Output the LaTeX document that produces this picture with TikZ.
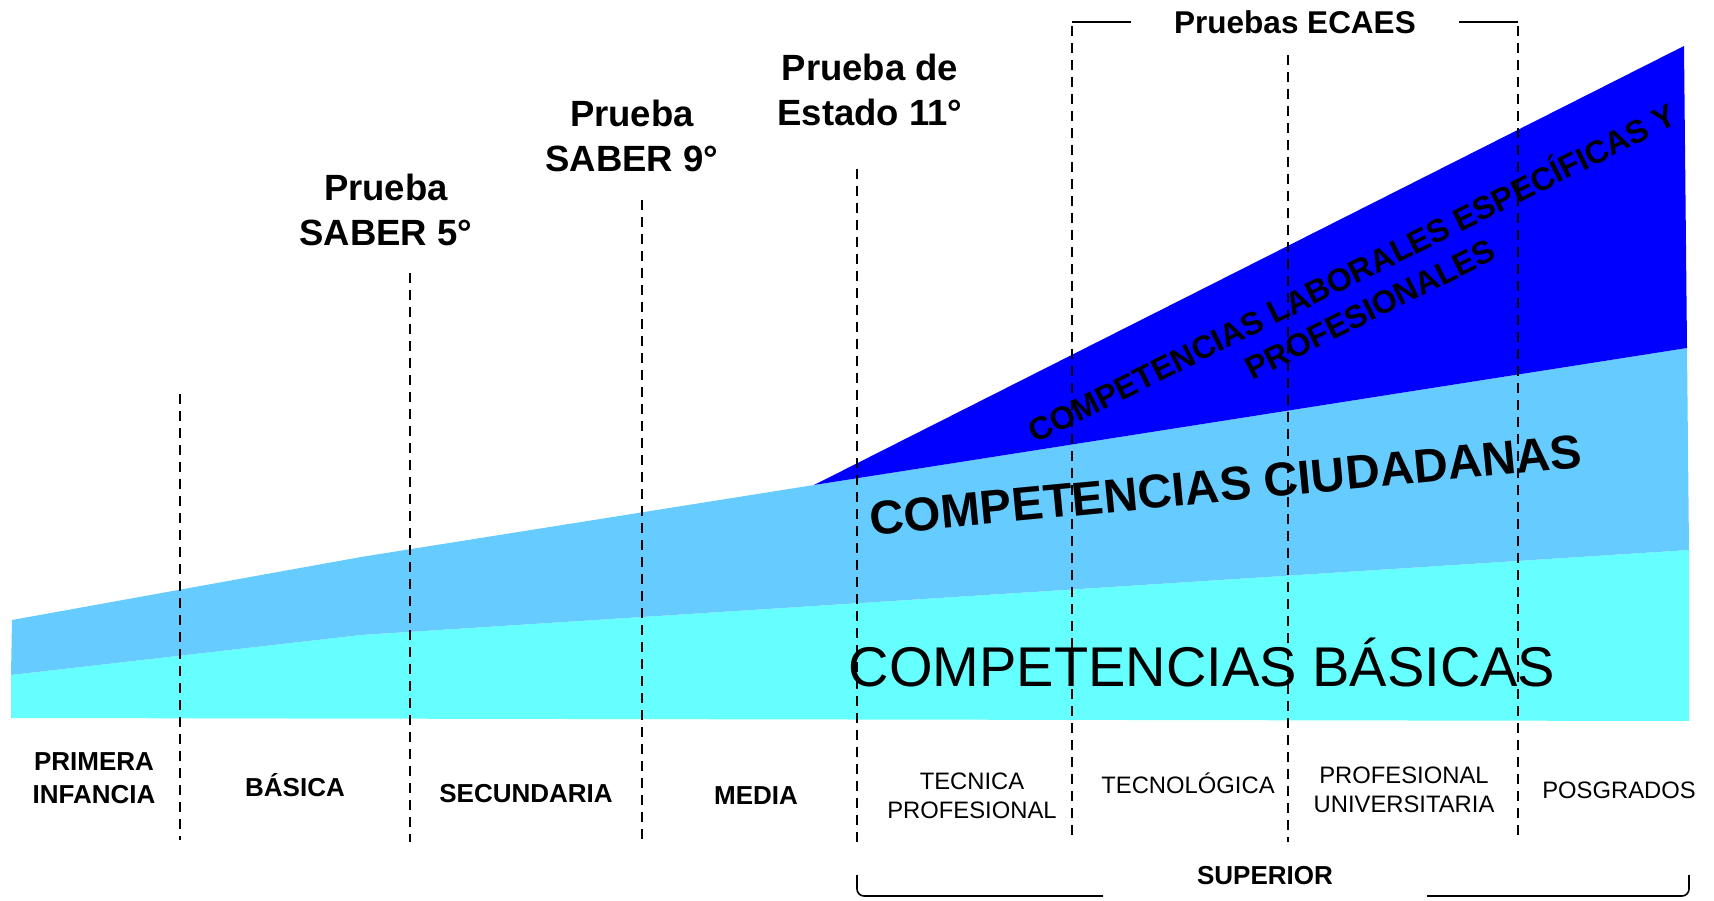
\documentclass[tikz,border=0pt]{standalone}
\usepackage{fontspec}
\setmainfont{Liberation Sans}
\definecolor{basicas}{HTML}{66FFFF}
\definecolor{ciudadanas}{HTML}{66CCFF}
\definecolor{laborales}{HTML}{0000FF}
\newcommand{\fs}[2]{\fontsize{#1}{#2}\selectfont}

\begin{document}
\begin{tikzpicture}[x=1pt,y=-1pt,
		nivelline/.style={dash pattern=on 10pt off 7pt,line width=2.8pt},
		bracket/.style={line width=2pt},
		prueba/.style={align=center,font=\bfseries\fs{36.5}{45}},
		nivel/.style={align=center,font=\bfseries\fs{26}{33}},
		superior/.style={align=center,font=\fs{23.8}{28.5}}]
		\useasboundingbox (0,0) rectangle (1714,901);
		
		% bandas de competencias
		\fill[basicas] (11,675) -- (361,635) -- (1689,550) -- (1689,721) -- (11,718) -- cycle;
		\fill[ciudadanas] (12,620) -- (361,557) -- (814,485) -- (1687,348) -- (1689,550) -- (361,635) -- (11,675) -- cycle;
		\fill[laborales] (814,485) -- (1684,46) -- (1687,348) -- cycle;
		
		\node[font=\fs{56}{60}]                   (basicasT)    at (1202,662) {COMPETENCIAS BÁSICAS};
		\node[font=\bfseries\fs{47.5}{57},rotate=5.5] (ciudadanasT) at (1226,485) {COMPETENCIAS CIUDADANAS};
		\node[align=center,font=\bfseries\fs{32}{40},rotate=26.5] (laboralesT) at (1360,289)
			{COMPETENCIAS LABORALES ESPECÍFICAS Y\\PROFESIONALES};
		
		% pruebas
		\node[prueba] (saber5)   at (386,210) {Prueba\\SABER 5°};
		\node[prueba] (saber9)   at (632,136) {Prueba\\SABER 9°};
		\node[prueba] (estado11) at (870,90)  {Prueba de\\Estado 11°};
		\node[font=\bfseries\fs{31.5}{36}] (ecaes) at (1295,22) {Pruebas ECAES};
		
		% niveles
		\node[nivel]    (infancia)      at (94,778)   {PRIMERA\\INFANCIA};
		\node[nivel]    (basica)        at (295,785)  {BÁSICA};
		\node[nivel]    (secundaria)    at (526,794)  {SECUNDARIA};
		\node[nivel]    (media)         at (756,796)  {MEDIA};
		\node[superior] (tecnica)       at (972,796)  {TECNICA\\PROFESIONAL};
		\node[superior] (tecnologica)   at (1188,783) {TECNOLÓGICA};
		\node[superior] (universitaria) at (1404,790) {PROFESIONAL\\UNIVERSITARIA};
		\node[superior] (posgrados)     at (1619,790) {POSGRADOS};
		\node[nivel]    (superiorT)     at (1265,876) {SUPERIOR};
		
		\coordinate (n1a) at (180,394);  \coordinate (n1b) at (180,840);
		\coordinate (n2a) at (410,273);  \coordinate (n2b) at (410,842);
		\coordinate (n3a) at (642,200);  \coordinate (n3b) at (642,840);
		\coordinate (n4a) at (857,169);  \coordinate (n4b) at (857,847);
		\coordinate (n5a) at (1072,26);  \coordinate (n5b) at (1072,840);
		\coordinate (n6a) at (1288,55);  \coordinate (n6b) at (1288,842);
		\coordinate (n7a) at (1518,26);  \coordinate (n7b) at (1518,840);
		
		\path[nivelline]
		(n1a) edge (n1b)
		(n2a) edge (n2b)
		(n3a) edge (n3b)
		(n4a) edge (n4b)
		(n5a) edge (n5b)
		(n6a) edge (n6b)
		(n7a) edge (n7b);
		
		\coordinate (ec1) at (1072,22); \coordinate (ec2) at (1131,22);
		\coordinate (ec3) at (1459,22); \coordinate (ec4) at (1518,22);
		\path[bracket] (ec1) edge (ec2) (ec3) edge (ec4);
		
		\coordinate (sup1) at (857,875);  \coordinate (sup2) at (1103,896);
		\coordinate (sup3) at (1427,896); \coordinate (sup4) at (1689,875);
		\draw[bracket,line width=1.6pt,rounded corners=7pt] (sup1) |- (sup2) (sup3) -| (sup4);
		\end{tikzpicture}
\end{document}
